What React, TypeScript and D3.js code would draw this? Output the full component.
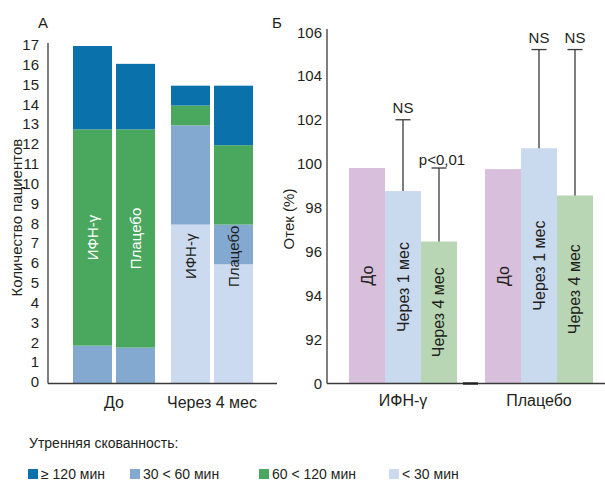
import React from "react";
import * as d3 from "d3";

// Panel A: morning stiffness, number of patients per duration class
const periods = ["До", "Через 4 мес"];
const arms = ["ИФН-γ", "Плацебо"];
const stiffnessKeys = ["lt30", "m30to60", "m60to120", "ge120"];
const stiffnessLabels: Record<string, string> = {
  ge120: "≥ 120 мин",
  m30to60: "30 < 60 мин",
  m60to120: "60 < 120 мин",
  lt30: "< 30 мин",
};
const legendOrder = ["ge120", "m30to60", "m60to120", "lt30"];
// counts per bar, bottom to top: <30, 30–60, 60–120, ≥120
const beforeIfn = [0, 1.9, 10.9, 4.2];
const beforePlacebo = [0, 1.8, 11.0, 3.3];
const afterIfn = [8, 5, 1, 1];
const afterPlacebo = [6, 2, 4, 3];
const countTicks = d3.range(0, 18);

// Panel B: oedema (%)
const groups = ["ИФН-γ", "Плацебо"];
const visits = ["До", "Через 1 мес", "Через 4 мес"];
const oedemaIfn = [99.8, 98.75, 96.45];
const oedemaPlacebo = [99.75, 100.7, 98.55];
const upperIfn = [NaN, 102.0, 99.8];
const upperPlacebo = [NaN, 105.2, 105.2];
const notesIfn = ["", "NS", "p<0,01"];
const notesPlacebo = ["", "NS", "NS"];
const oedemaTicks = [90, 92, 94, 96, 98, 100, 102, 104, 106];

const stiffnessColor: Record<string, string> = {
  ge120: "#0b71ab",
  m30to60: "#84a9d0",
  m60to120: "#4aa75e",
  lt30: "#ccdaef",
};
const visitColor = ["#d8c0dc", "#c9d9ee", "#b8d6b4"];
const axisColor = "#3a3a3a";
const textColor = "#231f20";
const font = "'Liberation Sans', Arial, Helvetica, sans-serif";

export default function App() {
  const W = 605;
  const H = 483;

  // ---------- Panel A ----------
  const yA = d3.scaleLinear().domain([0, 17]).range([383.3, 46]);
  const gA = d3.scaleBand<string>().domain(periods).range([65, 261]).paddingInner(0.1633).paddingOuter(0.0817);
  const aA = d3.scaleBand<string>().domain(arms).range([0, gA.bandwidth()]).paddingInner(0.093);
  const stackRows = [
    { period: periods[0], arm: arms[0], v: beforeIfn },
    { period: periods[0], arm: arms[1], v: beforePlacebo },
    { period: periods[1], arm: arms[0], v: afterIfn },
    { period: periods[1], arm: arms[1], v: afterPlacebo },
  ].map((r) => {
    const o: any = { period: r.period, arm: r.arm };
    stiffnessKeys.forEach((k, i) => (o[k] = r.v[i]));
    return o;
  });
  const stacked = d3.stack<any>().keys(stiffnessKeys)(stackRows);

  // ---------- Panel B ----------
  const yB = d3.scaleLinear().domain([90, 106]).range([383, 32]);
  const gB = d3.scaleBand<string>().domain(groups).range([335, 607]).paddingInner(0.206).paddingOuter(0.103);
  const vB = d3.scaleBand<string>().domain(visits).range([0, gB.bandwidth()]);
  const groupData = [
    { g: groups[0], v: oedemaIfn, up: upperIfn, notes: notesIfn },
    { g: groups[1], v: oedemaPlacebo, up: upperPlacebo, notes: notesPlacebo },
  ];

  return (
    <svg
      width={W}
      height={H}
      viewBox={`0 0 ${W} ${H}`}
      style={{ position: "absolute", left: 0, top: 0, background: "#fff", fontFamily: font }}
    >
      {/* Panel A */}
      <text x={38} y={28} fontSize={15} fill={textColor}>А</text>
      <text
        transform={`translate(16,${(yA(0) + yA(17)) / 2 + 3}) rotate(-90)`}
        textAnchor="middle"
        dominantBaseline="central"
        fontSize={15}
        fill={textColor}
      >
        Количество пациентов
      </text>
      {countTicks.map((t) => (
        <text key={t} x={39} y={yA(t) - 1.5} textAnchor="end" dominantBaseline="central" fontSize={15} fill={textColor}>
          {t}
        </text>
      ))}
      {stacked.map((layer) =>
        layer.map((seg, i) => {
          const row = stackRows[i];
          const x = (gA(row.period) ?? 0) + (aA(row.arm) ?? 0);
          if (seg[1] - seg[0] <= 0) return null;
          return (
            <rect
              key={layer.key + i}
              x={x}
              y={yA(seg[1])}
              width={aA.bandwidth()}
              height={yA(seg[0]) - yA(seg[1])}
              fill={stiffnessColor[layer.key]}
            />
          );
        })
      )}
      {stackRows.map((row, i) => {
        const cx = (gA(row.period) ?? 0) + (aA(row.arm) ?? 0) + aA.bandwidth() / 2;
        const before = row.period === periods[0];
        const green = stacked[2][i];
        const cy = before ? (yA(green[0]) + yA(green[1])) / 2 : yA(6.4);
        return (
          <text
            key={"lbl" + i}
            transform={`translate(${cx},${cy}) rotate(-90)`}
            textAnchor="middle"
            dominantBaseline="central"
            fontSize={15}
            fill={before ? "#ffffff" : textColor}
          >
            {row.arm}
          </text>
        );
      })}
      <line x1={48} x2={48} y1={43} y2={383.5} stroke={axisColor} strokeWidth={1.3} />
      <line x1={48} x2={277} y1={383.5} y2={383.5} stroke={axisColor} strokeWidth={1.3} />
      {periods.map((p) => (
        <text key={p} x={(gA(p) ?? 0) + gA.bandwidth() / 2} y={408} textAnchor="middle" fontSize={16} fill={textColor}>
          {p}
        </text>
      ))}

      {/* Panel B */}
      <text x={272} y={28} fontSize={15} fill={textColor}>Б</text>
      <text
        transform={`translate(288,219) rotate(-90)`}
        textAnchor="middle"
        dominantBaseline="central"
        fontSize={15}
        fill={textColor}
      >
        Отек (%)
      </text>
      {oedemaTicks.map((t) => (
        <text key={t} x={322} y={yB(t)} textAnchor="end" dominantBaseline="central" fontSize={15} fill={textColor}>
          {t === 90 ? "0" : t}
        </text>
      ))}
      {groupData.map((gd) =>
        gd.v.map((val, i) => {
          const x = (gB(gd.g) ?? 0) + (vB(visits[i]) ?? 0);
          const cx = x + vB.bandwidth() / 2;
          const top = yB(val);
          const hasErr = !isNaN(gd.up[i]);
          return (
            <g key={gd.g + i}>
              <rect x={x} y={top} width={vB.bandwidth()} height={yB(90) - top} fill={visitColor[i]} />
              <text
                transform={`translate(${cx},${(top + yB(90)) / 2}) rotate(-90)`}
                textAnchor="middle"
                dominantBaseline="central"
                fontSize={16}
                fill={textColor}
              >
                {visits[i]}
              </text>
              {hasErr && (
                <g stroke={axisColor} strokeWidth={1.3}>
                  <line x1={cx} x2={cx} y1={top} y2={yB(gd.up[i])} />
                  <line x1={cx - 7.5} x2={cx + 7.5} y1={yB(gd.up[i])} y2={yB(gd.up[i])} />
                </g>
              )}
              {gd.notes[i] && (
                <text
                  x={cx + (gd.notes[i].length > 2 ? 3 : 0)}
                  y={yB(gd.up[i]) - (gd.notes[i].length > 2 ? 3.5 : 7)}
                  textAnchor="middle"
                  fontSize={15}
                  fill={textColor}
                >
                  {gd.notes[i]}
                </text>
              )}
            </g>
          );
        })
      )}
      <line x1={327} x2={327} y1={29} y2={383.5} stroke={axisColor} strokeWidth={1.3} />
      <line x1={327} x2={605} y1={383.5} y2={383.5} stroke={axisColor} strokeWidth={1.3} />
      <line x1={463} x2={478} y1={383.5} y2={383.5} stroke="#222" strokeWidth={2.4} />
      {groups.map((g) => (
        <text key={g} x={(gB(g) ?? 0) + gB.bandwidth() / 2} y={406} textAnchor="middle" fontSize={16} fill={textColor}>
          {g}
        </text>
      ))}

      {/* Legend */}
      <text x={29} y={448} fontSize={14} fill={textColor}>Утренняя скованность:</text>
      {legendOrder.map((k, i) => {
        const lx = [28, 130, 259, 389][i];
        return (
          <g key={k}>
            <rect x={lx} y={469} width={10} height={10} fill={stiffnessColor[k]} />
            <text x={lx + 13} y={478.5} fontSize={14} fill={textColor}>
              {stiffnessLabels[k]}
            </text>
          </g>
        );
      })}
    </svg>
  );
}
